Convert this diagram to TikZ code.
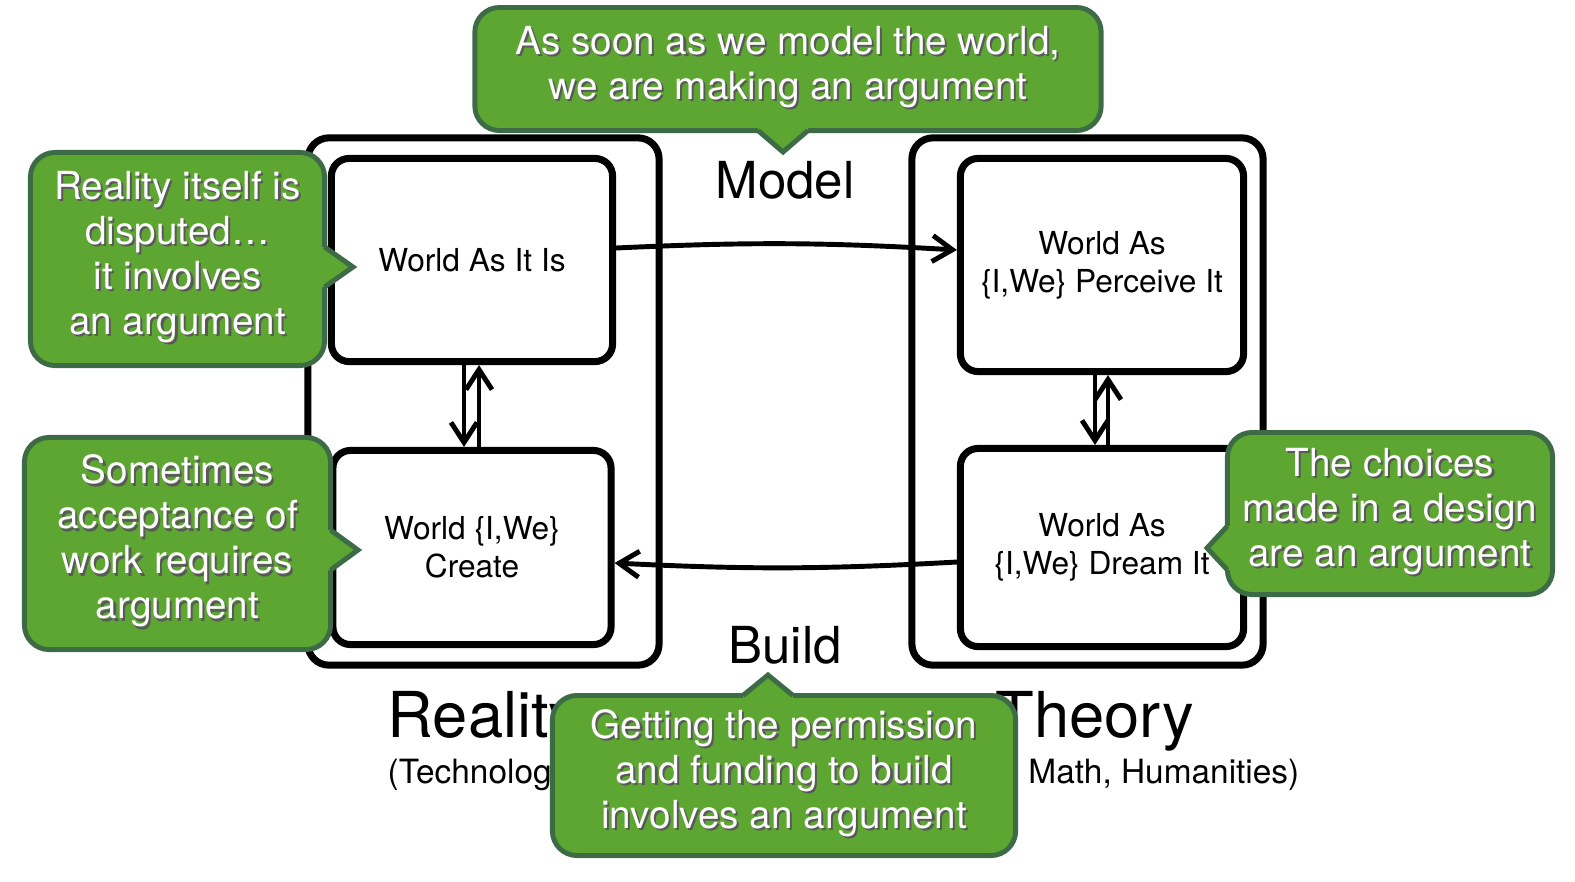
\documentclass[tikz,border=0pt]{standalone}
\usepackage{fontspec}
\setmainfont{TeX Gyre Heros}
\usetikzlibrary{arrows.meta,calc}
\definecolor{NoteFill}{HTML}{5CA631}
\definecolor{NoteEdge}{HTML}{3D6B45}
\newcommand\notelines[1]{%
  \makebox[0pt][l]{\raisebox{-0.6pt}{\hspace{0.6pt}\color{black!65}\begin{tabular}{@{}c@{}}#1\end{tabular}}}%
  \begin{tabular}{@{}c@{}}#1\end{tabular}}

\begin{document}
\begin{tikzpicture}[
  x=0.01cm, y=-0.01cm,
  realm/.style={draw, line width=2pt, rounded corners=6pt, minimum width=3.51cm, minimum height=5.27cm},
  world/.style={draw, line width=2pt, rounded corners=5pt, fill=white, align=center, inner sep=0pt, font=\fontsize{9}{10.8}\selectfont},
  note/.style={draw=NoteEdge, fill=NoteFill, line width=1.4pt, rounded corners=7pt, inner sep=0pt, outer sep=0pt, text=white, font=\fontsize{11}{12.8}\selectfont},
  notetip/.style={draw=NoteEdge, line width=1.4pt, line join=miter},
  arrow/.style={-{Straight Barb[length=2mm,width=2.6mm]}, line width=1.4pt}
]
\useasboundingbox (0,0) rectangle (1575,881);

% the two realms
\node[realm] (reality) at (483.5,401.5) {};
\node[realm] (theory) at (1087.5,401.5) {};

\node[world, minimum width=2.81cm, minimum height=2.03cm] (asitis) at (472,260) {World As It Is};
\node[world, minimum width=2.78cm, minimum height=1.94cm] (create) at (472,547.5) {World \{I,We\}\\Create};
\node[world, minimum width=2.83cm, minimum height=2.13cm] (perceive) at (1102,265) {World As\\\{I,We\} Perceive It};
\node[world, minimum width=2.83cm, minimum height=1.98cm] (dream) at (1102,547.5) {World As\\\{I,We\} Dream It};

\draw[arrow] ([yshift=0.12cm]asitis.east) to[bend left=3] ([yshift=0.15cm]perceive.west);
\draw[arrow] ([yshift=-0.145cm]dream.west) to[bend left=3] ([yshift=-0.155cm]create.east);
\draw[arrow] ([xshift=-0.08cm]asitis.south) -- ([xshift=-0.08cm]create.north);
\draw[arrow] ([xshift=0.07cm]create.north) -- ([xshift=0.07cm]asitis.south);
\draw[arrow] ([xshift=-0.07cm]perceive.south) -- ([xshift=-0.07cm]dream.north);
\draw[arrow] ([xshift=0.06cm]dream.north) -- ([xshift=0.06cm]perceive.south);

\node[font=\fontsize{14.5}{17}\selectfont] (model) at (785,180) {Model};
\node[font=\fontsize{14.5}{17}\selectfont] (build) at (785,645) {Build};
\node[anchor=base west, inner sep=0pt, font=\fontsize{18}{21}\selectfont] (realityname) at (387,737) {Reality};
\node[anchor=base west, inner sep=0pt, font=\fontsize{9.5}{11}\selectfont] (realitysub) at (387,783) {(Technology)};
\node[anchor=base west, inner sep=0pt, font=\fontsize{18}{21}\selectfont] (theoryname) at (995,737) {Theory};
\node[anchor=base east, inner sep=0pt, font=\fontsize{9.5}{11}\selectfont] (theorysub) at (1300,783) {Math, Humanities)};

% callouts
\node[note, minimum width=6.26cm, minimum height=1.23cm] (topnote) at (788,69) {\notelines{As soon as we model the world,\\we are making an argument}};
\coordinate (tipT) at (783,152);
\coordinate (baseT) at (tipT |- topnote.south);
\fill[NoteFill] ($(baseT)+(-25,-8)$) -- ($(baseT)+(-25,0)$) -- (tipT) -- ($(baseT)+(25,0)$) -- ($(baseT)+(25,-8)$) -- cycle;
\draw[notetip] ($(baseT)+(-25,0)$) -- (tipT) -- ($(baseT)+(25,0)$);

\node[note, minimum width=2.94cm, minimum height=2.13cm] (leftA) at (177.5,259) {\notelines{Reality itself is\\disputed…\\it involves\\an argument}};
\coordinate (tipA) at (353,267);
\coordinate (baseA) at (leftA.east |- tipA);
\fill[NoteFill] ($(baseA)+(-8,-20)$) -- ($(baseA)+(0,-20)$) -- (tipA) -- ($(baseA)+(0,20)$) -- ($(baseA)+(-8,20)$) -- cycle;
\draw[notetip] ($(baseA)+(0,-20)$) -- (tipA) -- ($(baseA)+(0,20)$);

\node[note, minimum width=3.06cm, minimum height=2.12cm] (leftB) at (177.5,543.5) {\notelines{Sometimes\\acceptance of\\work requires\\argument}};
\coordinate (tipB) at (358,550);
\coordinate (baseB) at (leftB.east |- tipB);
\fill[NoteFill] ($(baseB)+(-8,-20)$) -- ($(baseB)+(0,-20)$) -- (tipB) -- ($(baseB)+(0,20)$) -- ($(baseB)+(-8,20)$) -- cycle;
\draw[notetip] ($(baseB)+(0,-20)$) -- (tipB) -- ($(baseB)+(0,20)$);

\node[note, minimum width=3.25cm, minimum height=1.62cm] (rightnote) at (1390,513.5) {\notelines{The choices\\made in a design\\are an argument}};
\coordinate (tipR) at (1207,548);
\coordinate (baseR) at (rightnote.west |- tipR);
\fill[NoteFill] ($(baseR)+(8,-22)$) -- ($(baseR)+(0,-22)$) -- (tipR) -- ($(baseR)+(0,22)$) -- ($(baseR)+(8,22)$) -- cycle;
\draw[notetip] ($(baseR)+(0,-22)$) -- (tipR) -- ($(baseR)+(0,22)$);

\node[note, minimum width=4.63cm, minimum height=1.60cm] (botnote) at (784,775.5) {\notelines{Getting the permission\\and funding to build\\involves an argument}};
\coordinate (tipD) at (768,675);
\coordinate (baseD) at (tipD |- botnote.north);
\fill[NoteFill] ($(baseD)+(-25,8)$) -- ($(baseD)+(-25,0)$) -- (tipD) -- ($(baseD)+(25,0)$) -- ($(baseD)+(25,8)$) -- cycle;
\draw[notetip] ($(baseD)+(-25,0)$) -- (tipD) -- ($(baseD)+(25,0)$);
\end{tikzpicture}
\end{document}
